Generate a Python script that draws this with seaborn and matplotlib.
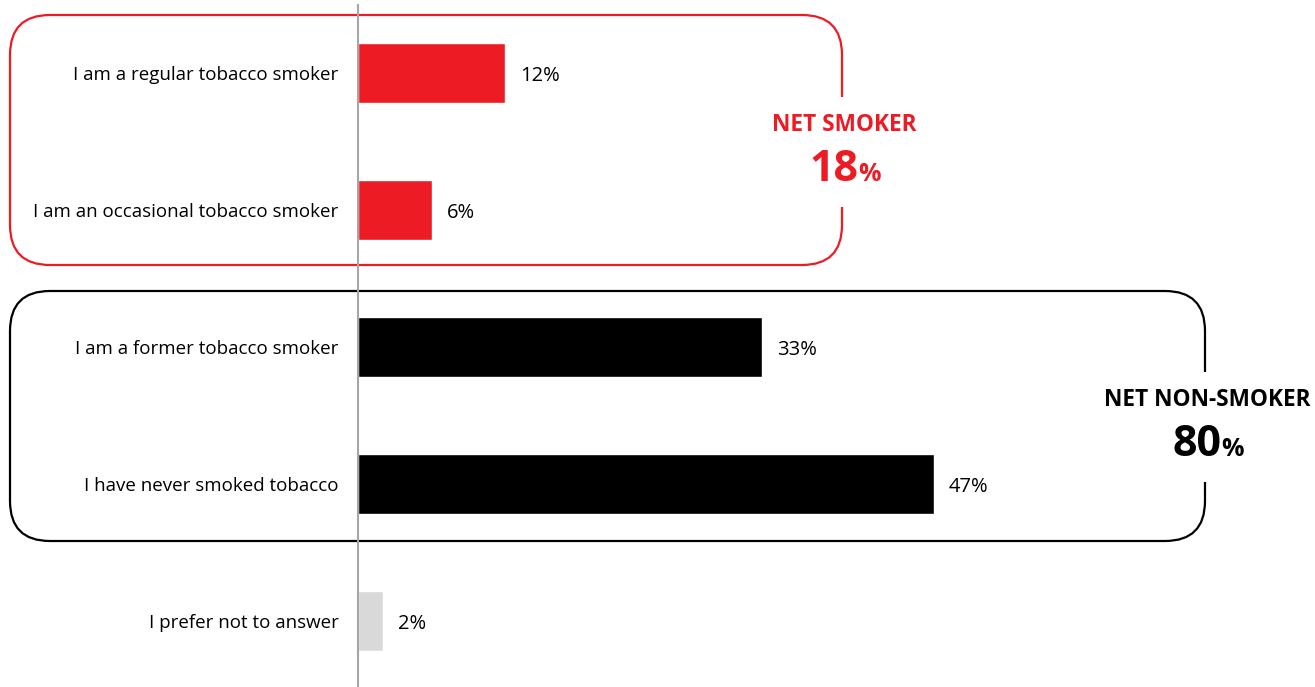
import matplotlib
matplotlib.use("Agg")
import matplotlib.pyplot as plt
from matplotlib.patches import FancyBboxPatch, Rectangle
import seaborn as sns
import pandas as pd

# Survey answers and shares (%)
categories = [
    "I am a regular tobacco smoker",
    "I am an occasional tobacco smoker",
    "I am a former tobacco smoker",
    "I have never smoked tobacco",
    "I prefer not to answer",
]
values = [12, 6, 33, 47, 2]
bar_colors = ["#ED1C24", "#ED1C24", "#000000", "#000000", "#D9D9D9"]

net_labels = ["NET SMOKER", "NET NON-SMOKER"]
net_values = [18, 80]
net_colors = ["#ED1C24", "#000000"]

sns.set_theme(style="white")
plt.rcParams["font.family"] = ["Open Sans", "DejaVu Sans"]

W, H = 1315, 687
fig = plt.figure(figsize=(W / 100, H / 100), dpi=100)
left_px, top_px = 358, 5
ax = fig.add_axes([left_px / W, 0, 1 - left_px / W, 1 - top_px / H])

df = pd.DataFrame({"answer": categories, "pct": values})
sns.barplot(data=df, x="pct", y="answer", hue="answer", palette=bar_colors,
            legend=False, width=0.44, orient="h", ax=ax, saturation=1)

# scales: 12.25 px per percentage point, 137 px per row
px_x = 12.25
px_y = 137.0
ax.set_xlim(0, (W - left_px) / px_x)
ax.set_ylim((H - 73) / px_y, (top_px - 73) / px_y)

for c in ax.containers:
    for t in ax.bar_label(c, labels=[f"{int(round(v))}%" for v in c.datavalues],
                          padding=11, fontsize=14.5, color="#000000"):
        t.set_va("center")
        t.xyann = (t.xyann[0], -2.2)

ax.set_xlabel("")
ax.set_ylabel("")
ax.set_xticks([])
ax.tick_params(axis="y", length=0, pad=14, labelsize=13.5, labelcolor="#000000")
for s in ["top", "right", "bottom"]:
    ax.spines[s].set_visible(False)
ax.spines["left"].set_color("#A6A6A6")
ax.spines["left"].set_linewidth(1.5)
ax.spines["left"].set_zorder(5)


def dx(px):
    return px / px_x


def ypos(px):
    return (px - 73) / px_y


# rounded group boxes with the net totals set into their right edge
box_specs = [
    # left px, right px, top px, bottom px, gap top, gap bottom
    (10, 842, 15, 265, 97, 207),
    (10, 1205, 291, 541, 372, 482),
]
for (l, r, t, b, gt, gb), lab, val, col in zip(box_specs, net_labels, net_values, net_colors):
    x0, x1 = dx(l - left_px), dx(r - left_px)
    y0, y1 = ypos(t), ypos(b)
    rad = dx(40)
    box = FancyBboxPatch((x0, y0), x1 - x0, y1 - y0,
                         boxstyle=f"round,pad=0,rounding_size={rad}",
                         mutation_aspect=px_x / px_y,
                         fill=False, edgecolor=col, linewidth=1.6,
                         clip_on=False, zorder=1)
    ax.add_patch(box)
    ax.add_patch(Rectangle((x1 - dx(6), ypos(gt)), dx(12), ypos(gb) - ypos(gt),
                           facecolor="white", edgecolor="none",
                           clip_on=False, zorder=2))
    yc = (gt + gb) / 2
    ax.text(x1 + dx(2), ypos(yc - 27), lab, ha="center", va="center",
            fontsize=16.3, fontweight="bold", color=col, zorder=3, clip_on=False)
    base_y = ypos(yc + 29)
    num = ax.text(x1 + dx(16), base_y, f"{val}", ha="right", va="baseline",
                  fontsize=31, fontweight="bold", color=col,
                  zorder=3, clip_on=False)
    ax.annotate("%", xy=(1, base_y), xycoords=(num, "data"), xytext=(0, 0),
                textcoords="offset points", ha="left", va="baseline",
                fontsize=18, fontweight="bold", color=col, zorder=3,
                annotation_clip=False)

fig.savefig("out.png", dpi=100)
